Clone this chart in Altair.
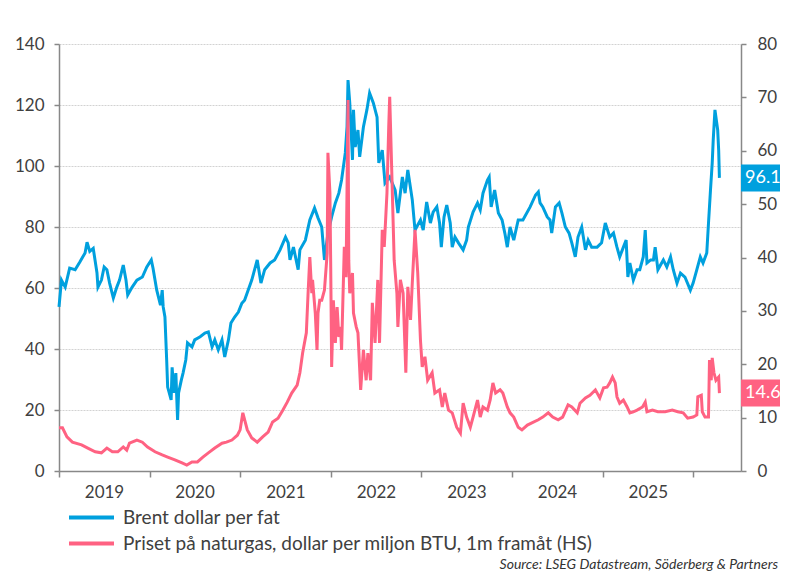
import altair as alt
import pandas as pd

# ---------------- data ----------------
brent_t = [2019.00, 2019.03, 2019.07, 2019.12, 2019.18, 2019.23, 2019.29, 2019.31, 2019.34, 2019.38,
           2019.42, 2019.43, 2019.47, 2019.50, 2019.53, 2019.56, 2019.60, 2019.64, 2019.67, 2019.71,
           2019.74, 2019.76, 2019.81, 2019.86, 2019.92, 2019.97, 2020.02, 2020.04, 2020.08, 2020.12,
           2020.14, 2020.15, 2020.17, 2020.19, 2020.20, 2020.24, 2020.25, 2020.27, 2020.29, 2020.31,
           2020.32, 2020.35, 2020.37, 2020.40, 2020.42, 2020.47, 2020.50, 2020.56, 2020.61, 2020.65,
           2020.69, 2020.72, 2020.76, 2020.80, 2020.83, 2020.87, 2020.90, 2020.94, 2020.98, 2021.02,
           2021.05, 2021.13, 2021.19, 2021.23, 2021.27, 2021.33, 2021.38, 2021.44, 2021.50, 2021.53,
           2021.55, 2021.59, 2021.64, 2021.66, 2021.72, 2021.77, 2021.82, 2021.86, 2021.90, 2021.93,
           2021.97, 2022.01, 2022.05, 2022.09, 2022.12, 2022.16, 2022.18, 2022.19, 2022.21, 2022.24,
           2022.25, 2022.27, 2022.30, 2022.32, 2022.36, 2022.40, 2022.43, 2022.47, 2022.51, 2022.53,
           2022.57, 2022.60, 2022.65, 2022.71, 2022.74, 2022.79, 2022.82, 2022.85, 2022.90, 2022.93,
           2022.99, 2023.02, 2023.06, 2023.10, 2023.13, 2023.17, 2023.20, 2023.22, 2023.25, 2023.28,
           2023.32, 2023.34, 2023.37, 2023.41, 2023.46, 2023.50, 2023.52, 2023.57, 2023.62, 2023.65,
           2023.68, 2023.73, 2023.75, 2023.77, 2023.81, 2023.85, 2023.89, 2023.92, 2023.95, 2023.98,
           2024.02, 2024.07, 2024.12, 2024.20, 2024.26, 2024.29, 2024.31, 2024.34, 2024.39, 2024.42,
           2024.44, 2024.48, 2024.52, 2024.55, 2024.59, 2024.63, 2024.66, 2024.70, 2024.73, 2024.77,
           2024.81, 2024.84, 2024.88, 2024.94, 2024.99, 2025.03, 2025.08, 2025.12, 2025.16, 2025.19,
           2025.23, 2025.26, 2025.28, 2025.30, 2025.34, 2025.38, 2025.41, 2025.45, 2025.47, 2025.49,
           2025.53, 2025.56, 2025.58, 2025.61, 2025.67, 2025.71, 2025.75, 2025.78, 2025.82, 2025.86,
           2025.91, 2025.97, 2026.00, 2026.04, 2026.08, 2026.11, 2026.15, 2026.17, 2026.19, 2026.21,
           2026.22, 2026.24, 2026.27, 2026.28, 2026.29]
brent_v = [53.8, 62.6, 60.3, 66.5, 66.0, 68.5, 71.5, 75.0, 72.0, 73.0,
           65.0, 60.3, 62.6, 66.9, 66.0, 61.6, 56.7, 60.3, 62.6, 67.5,
           62.6, 57.7, 60.3, 62.6, 63.6, 66.9, 69.2, 66.5, 59.3, 54.4,
           59.3, 53.8, 50.5, 36.4, 27.5, 23.3, 34.0, 25.6, 32.1, 16.7,
           25.6, 29.8, 32.1, 36.4, 42.0, 40.7, 43.0, 44.0, 45.2, 45.6,
           40.7, 43.0, 39.7, 43.0, 37.4, 43.0, 48.5, 50.5, 52.1, 55.0,
           56.0, 62.6, 69.2, 61.6, 66.0, 68.2, 69.2, 72.5, 76.7, 74.8,
           69.2, 73.4, 66.0, 72.5, 75.7, 82.3, 86.2, 83.0, 80.0, 69.2,
           78.0, 83.3, 87.9, 91.1, 95.4, 104.3, 112.8, 128.2, 120.7, 102.0,
           118.4, 106.2, 111.8, 103.0, 112.8, 118.4, 123.9, 120.7, 116.0, 101.0,
           105.2, 94.4, 96.4, 92.1, 84.6, 96.4, 91.1, 98.7, 88.9, 79.0,
           82.3, 79.0, 88.2, 81.3, 84.9, 86.6, 81.3, 73.4, 83.3, 87.2,
           81.3, 73.4, 76.7, 74.8, 72.5, 75.7, 80.0, 84.9, 87.9, 85.6,
           91.1, 95.4, 96.4, 86.6, 92.1, 84.6, 82.3, 78.0, 73.4, 80.0,
           75.7, 82.3, 82.3, 86.6, 90.5, 91.5, 87.9, 86.6, 83.3, 82.3,
           78.0, 86.6, 87.9, 84.6, 80.0, 78.0, 74.8, 70.2, 76.7, 80.0,
           72.5, 75.7, 73.4, 73.4, 74.8, 81.3, 76.7, 78.0, 73.4, 70.2,
           73.4, 75.7, 63.6, 68.2, 62.6, 66.0, 66.0, 70.2, 79.0, 68.2,
           69.2, 69.2, 73.4, 66.0, 69.2, 66.9, 70.2, 66.0, 61.6, 64.9,
           63.6, 59.3, 61.6, 66.0, 70.2, 68.2, 71.5, 81.3, 92.1, 101.0,
           108.5, 118.4, 111.8, 105.2, 96.1]

gas_t = [2019.00, 2019.04, 2019.09, 2019.15, 2019.25, 2019.32, 2019.40, 2019.47, 2019.53, 2019.59,
         2019.65, 2019.71, 2019.75, 2019.78, 2019.86, 2019.92, 2019.98, 2020.06, 2020.14, 2020.20,
         2020.28, 2020.36, 2020.41, 2020.47, 2020.53, 2020.59, 2020.65, 2020.72, 2020.80, 2020.85,
         2020.91, 2020.97, 2021.00, 2021.03, 2021.08, 2021.13, 2021.19, 2021.25, 2021.31, 2021.36,
         2021.42, 2021.47, 2021.52, 2021.57, 2021.63, 2021.66, 2021.69, 2021.73, 2021.75, 2021.77,
         2021.79, 2021.80, 2021.83, 2021.85, 2021.86, 2021.88, 2021.90, 2021.93, 2021.96, 2021.97,
         2021.99, 2022.00, 2022.01, 2022.03, 2022.05, 2022.07, 2022.09, 2022.11, 2022.12, 2022.15,
         2022.17, 2022.19, 2022.20, 2022.21, 2022.24, 2022.25, 2022.28, 2022.30, 2022.33, 2022.36,
         2022.39, 2022.41, 2022.44, 2022.46, 2022.49, 2022.52, 2022.54, 2022.57, 2022.59, 2022.62,
         2022.64, 2022.65, 2022.67, 2022.70, 2022.73, 2022.74, 2022.77, 2022.80, 2022.83, 2022.85,
         2022.88, 2022.90, 2022.93, 2022.96, 2022.99, 2023.01, 2023.04, 2023.07, 2023.12, 2023.15,
         2023.20, 2023.23, 2023.26, 2023.30, 2023.34, 2023.39, 2023.43, 2023.46, 2023.50, 2023.54,
         2023.57, 2023.62, 2023.65, 2023.68, 2023.73, 2023.76, 2023.79, 2023.82, 2023.87, 2023.90,
         2023.95, 2023.98, 2024.02, 2024.07, 2024.11, 2024.17, 2024.22, 2024.29, 2024.34, 2024.40,
         2024.45, 2024.51, 2024.56, 2024.62, 2024.66, 2024.72, 2024.75, 2024.81, 2024.86, 2024.92,
         2024.97, 2025.01, 2025.05, 2025.08, 2025.11, 2025.14, 2025.16, 2025.19, 2025.23, 2025.27,
         2025.30, 2025.34, 2025.38, 2025.44, 2025.47, 2025.49, 2025.55, 2025.61, 2025.69, 2025.77,
         2025.83, 2025.89, 2025.94, 2026.00, 2026.04, 2026.05, 2026.09, 2026.10, 2026.13, 2026.17,
         2026.18, 2026.20, 2026.21, 2026.23, 2026.25, 2026.28, 2026.29]
gas_v = [8.1, 8.1, 6.4, 5.4, 4.9, 4.3, 3.6, 3.4, 4.3, 3.6,
         3.6, 4.5, 3.9, 5.2, 5.8, 5.4, 4.5, 3.6, 3.0, 2.6,
         2.1, 1.5, 1.1, 1.7, 1.7, 2.6, 3.4, 4.3, 5.2, 5.4,
         5.8, 6.7, 7.7, 10.9, 7.7, 6.2, 5.4, 6.4, 7.3, 9.2,
         9.9, 11.4, 12.9, 14.6, 16.1, 18.4, 22.1, 25.9, 33.3, 40.1,
         33.3, 35.8, 29.6, 22.7, 29.6, 32.0, 32.0, 33.9, 40.8, 59.6,
         52.1, 39.5, 19.5, 32.0, 24.0, 30.7, 25.1, 27.0, 22.7, 42.0,
         36.3, 69.5, 39.5, 33.3, 37.1, 29.6, 27.0, 25.9, 15.2, 22.7,
         17.0, 22.1, 17.0, 31.5, 24.0, 35.8, 24.0, 45.2, 42.0, 52.1,
         64.4, 70.1, 58.3, 39.5, 33.3, 27.0, 35.8, 33.3, 18.4, 34.5,
         28.3, 35.2, 45.2, 37.1, 24.5, 19.5, 21.4, 17.0, 18.4, 14.6,
         15.2, 12.0, 14.6, 11.4, 10.9, 8.2, 7.1, 12.7, 10.1, 8.2,
         10.1, 13.3, 10.1, 12.0, 11.4, 13.3, 16.5, 14.6, 15.2, 14.6,
         12.0, 10.9, 10.1, 8.2, 7.7, 8.6, 9.0, 9.6, 10.1, 10.9,
         10.1, 9.6, 10.1, 12.4, 12.0, 10.9, 12.7, 13.7, 14.2, 15.2,
         13.7, 15.6, 15.7, 16.5, 17.6, 16.5, 13.9, 12.7, 13.3, 12.0,
         10.9, 11.1, 11.4, 12.0, 12.9, 11.1, 11.4, 11.1, 11.1, 11.4,
         11.1, 10.9, 9.9, 10.1, 10.5, 13.9, 14.2, 11.1, 10.1, 10.1,
         20.8, 17.0, 21.2, 18.4, 17.0, 17.6, 14.6]

BRENT_LABEL = "Brent dollar per fat"
GAS_LABEL = "Priset på naturgas, dollar per miljon BTU, 1m framåt (HS)"
SOURCE = "Source: LSEG Datastream, Söderberg & Partners"
year_ticks = [2019, 2020, 2021, 2022, 2023, 2024, 2025, 2026]
left_ticks = [0, 20, 40, 60, 80, 100, 120, 140]
right_ticks = [0, 10, 20, 30, 40, 50, 60, 70, 80]

BLUE = "#00a0de"
PINK = "#ff6282"
FONT = "Lato"
TXT = "#404040"


def to_date(t):
    base = pd.Timestamp("2019-01-01")
    return (base + pd.to_timedelta((t - 2019) * 365.25, unit="D")).strftime("%Y-%m-%d")


brent_df = pd.DataFrame({"date": [to_date(t) for t in brent_t], "brent": brent_v,
                         "series": BRENT_LABEL})
gas_df = pd.DataFrame({"date": [to_date(t) for t in gas_t], "gas": gas_v,
                       "series": GAS_LABEL})
brent_last = brent_df.tail(1).assign(label=lambda d: d["brent"].map(lambda v: f"{v:.1f}"))
gas_last = gas_df.tail(1).assign(label=lambda d: d["gas"].map(lambda v: f"{v:.1f}"))

xscale = alt.Scale(type="utc",
                   domain=[alt.DateTime(year=2019, month=1, date=1, utc=True),
                           alt.DateTime(year=2026, month=7, date=12, utc=True)])
xaxis = alt.Axis(
    title=None,
    values=[alt.DateTime(year=y, month=1, date=1, utc=True) for y in year_ticks],
    labelExpr="utcFormat(datum.value, '%Y') == '2026' ? '' : utcFormat(datum.value, '%Y')",
    labelOffset=45, labelFlush=False, labelOverlap=False, labelBound=False,
    grid=False, tickSize=6, labelPadding=7,
)
x_main = alt.X("date:T", scale=xscale, axis=xaxis)

brent_scale = alt.Scale(domain=[0, 140], nice=False, zero=True)
gas_scale = alt.Scale(domain=[0, 80], nice=False, zero=True)
brent_axis = alt.Axis(title=None, values=left_ticks, orient="left", grid=True,
                      gridDash=[2, 1], gridColor="#d2d2d2", gridWidth=1,
                      tickSize=5, labelPadding=10)
gas_axis = alt.Axis(title=None, values=right_ticks, orient="right", grid=False,
                    tickSize=5, labelPadding=11)
y_brent = alt.Y("brent:Q", scale=brent_scale, axis=brent_axis)
y_gas = alt.Y("gas:Q", scale=gas_scale, axis=gas_axis)

color_scale = alt.Scale(domain=[BRENT_LABEL, GAS_LABEL], range=[BLUE, PINK])
legend = alt.Legend(
    orient="none", legendX=23, legendY=464, direction="vertical", title=None,
    symbolType="M-5,0H5", symbolSize=81, symbolStrokeWidth=4,
    labelFontSize=19, labelFont=FONT, labelColor=TXT, labelOffset=22,
    rowPadding=6, padding=0, labelLimit=800,
)

box_shape = "M-1,-0.5625H1V0.5625H-1Z"

brent_line = alt.Chart(brent_df).mark_line(strokeWidth=3).encode(
    x=x_main, y=y_brent,
    color=alt.Color("series:N", scale=color_scale, legend=legend),
)
brent_box = alt.Chart(brent_last).mark_point(shape=box_shape, size=2304, filled=True,
                                             color=BLUE, opacity=1, strokeWidth=0).encode(
    x=alt.value(706), y=y_brent)
brent_text = alt.Chart(brent_last).mark_text(align="left", baseline="middle", font=FONT,
                                             fontSize=18, color="white").encode(
    x=alt.value(686), y=y_brent, text="label:N")
brent_layer = alt.layer(brent_line, brent_box, brent_text)

gas_line = alt.Chart(gas_df).mark_line(strokeWidth=3).encode(
    x=x_main, y=y_gas,
    color=alt.Color("series:N", scale=color_scale, legend=legend),
)
gas_box = alt.Chart(gas_last).mark_point(shape=box_shape, size=2304, filled=True,
                                         color=PINK, opacity=1, strokeWidth=0).encode(
    x=alt.value(706), y=y_gas)
gas_text = alt.Chart(gas_last).mark_text(align="left", baseline="middle", font=FONT,
                                         fontSize=18, color="white").encode(
    x=alt.value(686), y=y_gas, text="label:N")
gas_layer = alt.layer(gas_line, gas_box, gas_text)

source = alt.Chart(pd.DataFrame({"t": [SOURCE]})).mark_text(
    align="right", baseline="middle", font=FONT, fontSize=14, fontStyle="italic", color="#333333"
).encode(x=alt.value(719), y=alt.value(521), text="t:N")

chart = alt.layer(brent_layer, gas_layer, source).resolve_scale(y="independent").properties(
    width=682, height=427,
    autosize=alt.AutoSizeParams(type="none"),
    padding={"left": 51, "top": 36, "right": 39, "bottom": 101},
    background="white",
).configure_view(stroke=None).configure_axis(
    labelFont=FONT, labelFontSize=17, labelColor=TXT,
    domainColor="#888888", domainWidth=1.5, tickColor="#888888", tickWidth=1.5,
)

chart.save("out.html", embed_options={"renderer": "svg", "actions": False})
